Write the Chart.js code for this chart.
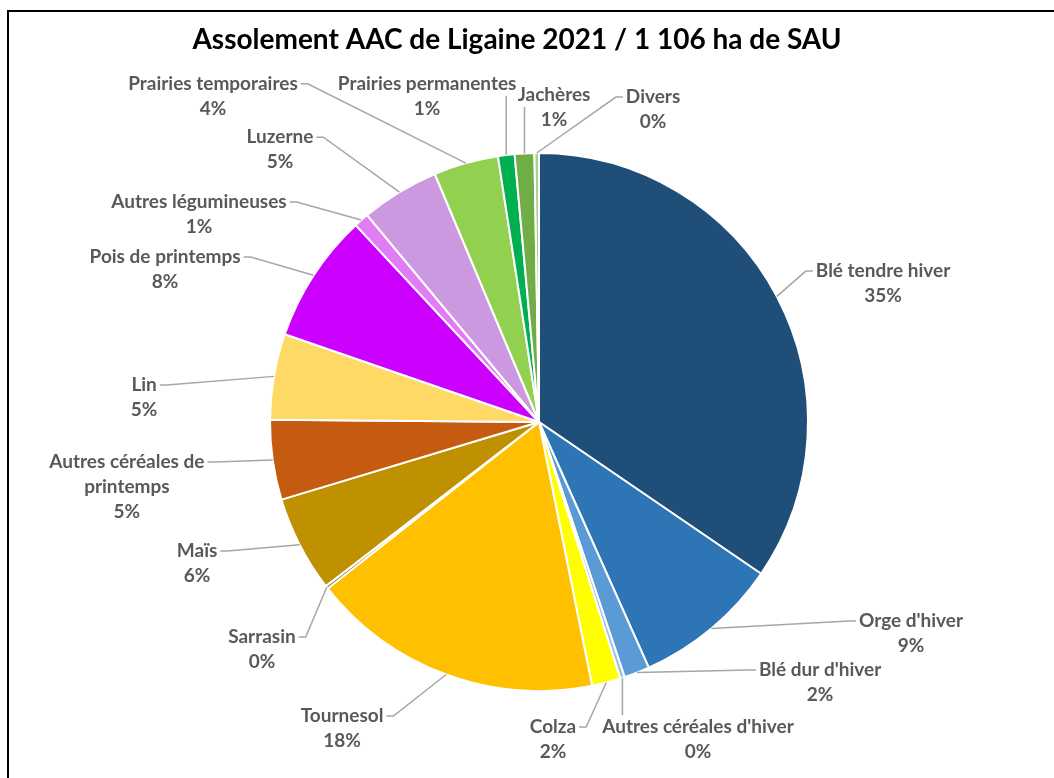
<!DOCTYPE html>
<html>
<head>
<meta charset="utf-8">
<title>Assolement AAC de Ligaine 2021</title>
<script src="https://cdn.jsdelivr.net/npm/chart.js@4.4.0/dist/chart.umd.min.js"></script>
<style>
  html, body { margin: 0; padding: 0; background: #fff; }
  canvas { display: block; }
</style>
</head>
<body>
<canvas id="pieChart" width="1054" height="778"></canvas>
<script>
// surfaces en ha (total 1 106 ha de SAU)
var categories = ["Blé tendre hiver", "Orge d'hiver", "Blé dur d'hiver", "Autres céréales d'hiver", "Colza",
  "Tournesol", "Sarrasin", "Maïs", "Autres céréales de printemps", "Lin", "Pois de printemps",
  "Autres légumineuses", "Luzerne", "Prairies temporaires", "Prairies permanentes", "Jachères", "Divers"];
var surfaces = [382, 97, 17, 3, 19, 194, 2, 64, 53, 57, 86, 10, 52, 43, 11, 13, 3];
var sliceColors = ["#1F4E79", "#2E75B6", "#5B9BD5", "#9DC3E6", "#FFFF00",
  "#FFC000", "#7F6000", "#BF9000", "#C55A11", "#FFD966", "#CC00FF",
  "#E07CF5", "#CC99E0", "#92D050", "#00B050", "#70AD47", "#A9D18E"];

// position of each label (first line centre), relative to pie centre, in radius units
var labelPos = [[1.279, -0.561], [1.383, 0.740], [1.045, 0.922], [0.591, 1.134], [0.052, 1.134],
  [-0.732, 1.093], [-1.030, 0.799], [-1.271, 0.480], [-1.532, 0.149], [-1.468, -0.138],
  [-1.390, -0.613], [-1.264, -0.818], [-0.963, -1.059], [-1.212, -1.257], [-0.416, -1.257],
  [0.056, -1.216], [0.424, -1.208]];

var titleText = "Assolement AAC de Ligaine 2021 / 1 106 ha de SAU";
var labelFont = "bold 19px Lato";
var lineH = 25;

function wrapText(ctx, text, maxW) {
  var words = text.split(" ");
  var lines = [];
  var cur = "";
  for (var i = 0; i < words.length; i++) {
    var test = cur ? cur + " " + words[i] : words[i];
    if (cur && ctx.measureText(test).width > maxW) {
      lines.push(cur);
      cur = words[i];
    } else {
      cur = test;
    }
  }
  lines.push(cur);
  return lines;
}

// frame, title, outside labels + leader lines
var decoPlugin = {
  id: 'deco',
  beforeDraw: function(chart) {
    var ctx = chart.ctx;
    ctx.save();
    ctx.fillStyle = "#fff";
    ctx.fillRect(0, 0, chart.width, chart.height);
    ctx.strokeStyle = "#000";
    ctx.lineWidth = 2;
    ctx.beginPath();
    ctx.moveTo(8, chart.height);
    ctx.lineTo(8, 11);
    ctx.lineTo(chart.width, 11);
    ctx.stroke();
    ctx.fillStyle = "#000";
    ctx.font = "bold 28px Lato";
    ctx.textAlign = "center";
    ctx.textBaseline = "middle";
    ctx.fillText(titleText, 517, 40);
    ctx.restore();
  },
  afterDatasetsDraw: function(chart) {
    var ctx = chart.ctx;
    var meta = chart.getDatasetMeta(0);
    var data = chart.data.datasets[0].data;
    var total = data.reduce(function(a, b) { return a + b; }, 0);
    ctx.save();
    ctx.font = labelFont;
    ctx.textAlign = "center";
    ctx.textBaseline = "middle";
    meta.data.forEach(function(arc, i) {
      var R = arc.outerRadius;
      var mid = (arc.startAngle + arc.endAngle) / 2;
      var px = arc.x + Math.cos(mid) * R;
      var py = arc.y + Math.sin(mid) * R;
      var lx = arc.x + labelPos[i][0] * R;
      var ly = arc.y + labelPos[i][1] * R;
      var lines = wrapText(ctx, chart.data.labels[i], 215);
      lines.push(Math.round(data[i] / total * 100) + "%");

      var w = ctx.measureText(lines[0]).width;
      var left = lx - w / 2, right = lx + w / 2;
      var pts = [[px, py]];
      if (px < left - 2) {
        pts.push([left - 10, ly], [left - 3, ly]);
      } else if (px > right + 2) {
        pts.push([right + 10, ly], [right + 3, ly]);
      } else if (py > ly) {
        pts.push([px, ly + 12]);
      } else {
        pts.push([px, ly - 12]);
      }
      ctx.strokeStyle = "#A6A6A6";
      ctx.lineWidth = 1.5;
      ctx.beginPath();
      ctx.moveTo(pts[0][0], pts[0][1]);
      for (var k = 1; k < pts.length; k++) ctx.lineTo(pts[k][0], pts[k][1]);
      ctx.stroke();

      ctx.fillStyle = "#595959";
      for (var j = 0; j < lines.length; j++) {
        ctx.fillText(lines[j], lx, ly + j * lineH);
      }
    });
    ctx.restore();
  }
};

var pieData = {
  labels: categories,
  datasets: [{
    data: surfaces,
    backgroundColor: sliceColors,
    borderColor: "#fff",
    borderWidth: 2
  }]
};

var pieOptions = {
  responsive: false,
  animation: false,
  layout: { padding: { top: 152, bottom: 86, left: 200, right: 176 } },
  plugins: {
    legend: { display: false },
    tooltip: { enabled: false },
    title: { display: false }
  }
};

var ctx1 = document.getElementById("pieChart").getContext("2d");
new Chart(ctx1, { type: 'pie', data: pieData, options: pieOptions, plugins: [decoPlugin] });
</script>
</body>
</html>
